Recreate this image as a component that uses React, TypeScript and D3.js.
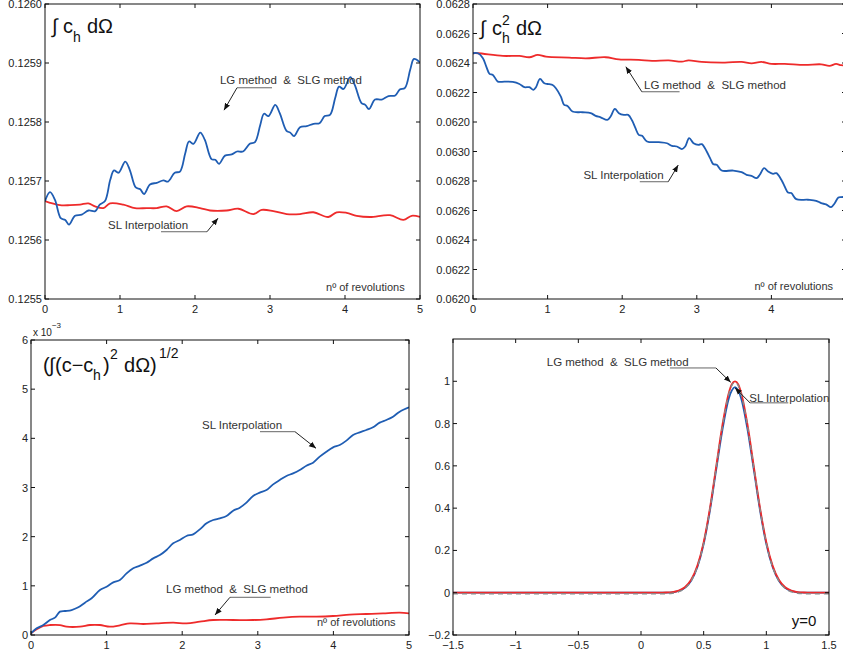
import React from "react";
import * as d3 from "d3";

type Pt = [number, number];

const FONT = "'Liberation Sans', Arial, Helvetica, sans-serif";
const BLUE = "#1f5db3";
const RED = "#ee2b2b";
const LG_TEXT = "LG method\u00a0 &\u00a0 SLG method";

// ---- axes ----
const revTicks = [0, 1, 2, 3, 4, 5];
const massTicks = [0.1255, 0.1256, 0.1257, 0.1258, 0.1259, 0.126];
const massLabels = ["0.1255", "0.1256", "0.1257", "0.1258", "0.1259", "0.1260"];
const energyTicks = [0.062, 0.0622, 0.0624, 0.0626, 0.0628, 0.063, 0.0632, 0.0634, 0.0636, 0.0638, 0.064];
const energyLabels = ["0.0620", "0.0622", "0.0624", "0.0626", "0.0628", "0.0630", "0.0620", "0.0622", "0.0624", "0.0626", "0.0628"];
const errTicks = [0, 0.001, 0.002, 0.003, 0.004, 0.005, 0.006];
const errLabels = ["0", "1", "2", "3", "4", "5", "6"];
const posTicks = [-1.5, -1, -0.5, 0, 0.5, 1, 1.5];
const posLabels = ["\u22121.5", "\u22121", "\u22120.5", "0", "0.5", "1", "1.5"];
const profTicks = [-0.2, 0, 0.2, 0.4, 0.6, 0.8, 1];
const profLabels = ["\u22120.2", "0", "0.2", "0.4", "0.6", "0.8", "1"];

// ---- integral of c_h (mass) ----
const massLG: Pt[] = [
  [0, 0.125666], [0.067, 0.125681], [0.133, 0.125668], [0.21, 0.125637], [0.27, 0.125634], [0.32, 0.125626],
  [0.4, 0.125641], [0.49, 0.125643], [0.58, 0.12565], [0.67, 0.125649], [0.73, 0.12566], [0.8, 0.125666],
  [0.87, 0.125702], [0.92, 0.125718], [0.98, 0.125714], [1.07, 0.125733], [1.13, 0.125719], [1.21, 0.125689],
  [1.27, 0.125686], [1.32, 0.125678], [1.4, 0.125694], [1.49, 0.125697], [1.58, 0.125701], [1.64, 0.125699],
  [1.73, 0.125714], [1.8, 0.125716], [1.87, 0.125747], [1.92, 0.125767], [1.98, 0.125763], [2.07, 0.125782],
  [2.13, 0.12577], [2.22, 0.125737], [2.27, 0.125736], [2.32, 0.125729], [2.4, 0.125743], [2.49, 0.125745],
  [2.56, 0.12575], [2.64, 0.12575], [2.73, 0.125763], [2.8, 0.125766], [2.87, 0.125795], [2.92, 0.125814],
  [2.98, 0.12581], [3.07, 0.125829], [3.13, 0.125815], [3.22, 0.125785], [3.27, 0.125782], [3.32, 0.125776],
  [3.4, 0.125791], [3.49, 0.125793], [3.58, 0.125797], [3.66, 0.125798], [3.73, 0.12581], [3.8, 0.125812],
  [3.87, 0.125841], [3.92, 0.12586], [3.98, 0.125856], [4.07, 0.125876], [4.13, 0.125863], [4.22, 0.125832],
  [4.27, 0.125829], [4.32, 0.125822], [4.4, 0.125838], [4.49, 0.125838], [4.58, 0.125844], [4.67, 0.125845],
  [4.73, 0.125855], [4.8, 0.125858], [4.87, 0.125889], [4.92, 0.125907], [5, 0.125901],
];
const massSL: Pt[] = [
  [0, 0.125666], [0.067, 0.125663], [0.2, 0.125659], [0.333, 0.125659], [0.467, 0.12566], [0.578, 0.125662],
  [0.667, 0.125657], [0.778, 0.125654], [0.867, 0.125662], [1.044, 0.12566], [1.2, 0.125654], [1.356, 0.125654],
  [1.489, 0.125654], [1.622, 0.125657], [1.756, 0.125649], [1.889, 0.125657], [2.067, 0.125654], [2.2, 0.12565],
  [2.422, 0.12565], [2.578, 0.125653], [2.778, 0.125644], [2.889, 0.125651], [3.044, 0.125649], [3.222, 0.125644],
  [3.4, 0.125644], [3.578, 0.125647], [3.778, 0.125639], [3.889, 0.125647], [4.022, 0.125646], [4.156, 0.125641],
  [4.333, 0.125639], [4.6, 0.125642], [4.778, 0.125634], [4.889, 0.125641], [5, 0.125639],
];

// ---- integral of c_h^2 ----
const energyLG: Pt[] = [
  [0, 0.063666], [0.067, 0.063666], [0.4, 0.063648], [0.622, 0.063648], [0.756, 0.063639], [0.867, 0.063655],
  [0.978, 0.063643], [1.289, 0.063637], [1.511, 0.063632], [1.778, 0.063639], [1.956, 0.063625], [2.222, 0.063621],
  [2.4, 0.063614], [2.622, 0.063618], [2.8, 0.063609], [2.889, 0.063618], [3.067, 0.063607], [3.378, 0.063603],
  [3.6, 0.063607], [3.733, 0.063598], [3.867, 0.063607], [4.0, 0.063594], [4.178, 0.063594], [4.444, 0.063587],
  [4.667, 0.063591], [4.778, 0.06358], [4.867, 0.063594], [4.933, 0.063585], [5, 0.063585],
];
const energySL: Pt[] = [
  [0, 0.063666], [0.067, 0.063666], [0.133, 0.063632], [0.178, 0.063576], [0.222, 0.063526], [0.267, 0.063519],
  [0.333, 0.063474], [0.422, 0.063474], [0.533, 0.063472], [0.622, 0.063458], [0.689, 0.063436], [0.756, 0.063436],
  [0.809, 0.063418], [0.844, 0.063436], [0.898, 0.063492], [0.956, 0.063463], [1.022, 0.063456], [1.067, 0.063451],
  [1.111, 0.063429], [1.178, 0.063372], [1.222, 0.063316], [1.267, 0.063309], [1.333, 0.063271], [1.467, 0.063266],
  [1.578, 0.06326], [1.644, 0.063242], [1.711, 0.063232], [1.8, 0.063214], [1.844, 0.063237], [1.902, 0.063289],
  [1.956, 0.06326], [2.022, 0.063248], [2.08, 0.063248], [2.133, 0.06321], [2.178, 0.063158], [2.222, 0.063113],
  [2.267, 0.063106], [2.333, 0.063068], [2.489, 0.063063], [2.6, 0.063056], [2.667, 0.063038], [2.733, 0.063034],
  [2.8, 0.063016], [2.844, 0.063034], [2.898, 0.06309], [2.956, 0.063056], [3.022, 0.063045], [3.067, 0.06305],
  [3.133, 0.063], [3.178, 0.062955], [3.222, 0.062914], [3.267, 0.06291], [3.333, 0.062871], [3.489, 0.062871],
  [3.6, 0.06286], [3.667, 0.062842], [3.733, 0.062835], [3.8, 0.062819], [3.844, 0.062842], [3.902, 0.062887],
  [3.956, 0.062865], [4.022, 0.062849], [4.067, 0.062853], [4.133, 0.062808], [4.178, 0.062763], [4.222, 0.062722],
  [4.267, 0.062718], [4.333, 0.062677], [4.489, 0.062673], [4.6, 0.062666], [4.667, 0.06265], [4.733, 0.062641],
  [4.8, 0.062623], [4.844, 0.062646], [4.898, 0.062688], [4.933, 0.062691], [5, 0.062691],
];

// ---- L2 error ----
const errSL: Pt[] = [
  [0, 0.000034], [0.075, 0.000136], [0.163, 0.000203], [0.25, 0.000305], [0.317, 0.000353], [0.383, 0.000475],
  [0.449, 0.000488], [0.537, 0.000508], [0.626, 0.000563], [0.714, 0.000658], [0.802, 0.000746], [0.912, 0.000915],
  [1.0, 0.000983], [1.088, 0.001071], [1.176, 0.001119], [1.264, 0.001254], [1.352, 0.001356], [1.441, 0.00141],
  [1.529, 0.001471], [1.617, 0.001559], [1.705, 0.001627], [1.793, 0.001729], [1.881, 0.001864], [1.969, 0.001932],
  [2.057, 0.002014], [2.145, 0.002047], [2.233, 0.002149], [2.322, 0.002271], [2.41, 0.002339], [2.498, 0.002373],
  [2.586, 0.00242], [2.674, 0.002529], [2.762, 0.00259], [2.85, 0.002692], [2.938, 0.002827], [3.026, 0.002895],
  [3.115, 0.002949], [3.203, 0.003064], [3.291, 0.003153], [3.379, 0.003234], [3.467, 0.003288], [3.555, 0.003356],
  [3.643, 0.003444], [3.731, 0.003505], [3.819, 0.003627], [3.907, 0.003729], [3.996, 0.003817], [4.084, 0.003864],
  [4.172, 0.003953], [4.26, 0.004068], [4.348, 0.004122], [4.436, 0.004169], [4.524, 0.004224], [4.612, 0.004319],
  [4.7, 0.004373], [4.789, 0.004441], [4.877, 0.004542], [5, 0.004631],
];
const errLG: Pt[] = [
  [0, 0.000034], [0.075, 0.000115], [0.163, 0.000183], [0.25, 0.000203], [0.383, 0.000203], [0.471, 0.000169],
  [0.648, 0.000169], [0.78, 0.000203], [0.912, 0.000203], [1.044, 0.000169], [1.176, 0.000197], [1.308, 0.000237],
  [1.485, 0.000224], [1.661, 0.000237], [1.881, 0.000251], [2.057, 0.000237], [2.233, 0.000271], [2.41, 0.000305],
  [2.674, 0.000305], [2.938, 0.000305], [3.115, 0.000319], [3.335, 0.000353], [3.555, 0.000373], [3.775, 0.000373],
  [3.996, 0.000386], [4.216, 0.000414], [4.436, 0.000427], [4.656, 0.000441], [4.877, 0.000454], [5, 0.000441],
];

// ---- profile along y=0 ----
const profLG: Pt[] = [
  [-1.5, 0], [0.15, 0], [0.2, 0.001], [0.25, 0.003], [0.3, 0.01], [0.35, 0.026], [0.4, 0.061], [0.45, 0.128],
  [0.5, 0.239], [0.55, 0.4], [0.6, 0.598], [0.65, 0.795], [0.7, 0.944], [0.725, 0.986], [0.75, 1.0], [0.775, 0.986],
  [0.8, 0.944], [0.85, 0.795], [0.9, 0.598], [0.95, 0.4], [1.0, 0.239], [1.05, 0.128], [1.1, 0.061], [1.15, 0.026],
  [1.2, 0.01], [1.25, 0.003], [1.3, 0.001], [1.35, 0], [1.5, 0],
];
const profSL: Pt[] = [
  [-1.5, 0], [0.2, 0], [0.25, 0.002], [0.3, 0.008], [0.35, 0.023], [0.4, 0.057], [0.45, 0.122], [0.5, 0.23],
  [0.55, 0.388], [0.6, 0.582], [0.65, 0.772], [0.7, 0.918], [0.725, 0.957], [0.75, 0.972], [0.775, 0.957],
  [0.8, 0.918], [0.85, 0.772], [0.9, 0.582], [0.95, 0.388], [1.0, 0.23], [1.05, 0.122], [1.1, 0.057],
  [1.15, 0.023], [1.2, 0.008], [1.25, 0.002], [1.3, 0], [1.5, 0],
];
const profExact: Pt[] = profLG;

type Scale = d3.ScaleLinear<number, number>;

const Panel = ({ id, xs, ys, xTicks, xLabels, yTicks, yLabels, children }: {
  id: string; xs: Scale; ys: Scale; xTicks: number[]; xLabels: string[];
  yTicks: number[]; yLabels: string[]; children?: React.ReactNode;
}) => {
  const [x0, x1] = xs.range();
  const [y0, y1] = ys.range();
  const tl = 4;
  return (
    <g>
      <defs>
        <clipPath id={id}>
          <rect x={x0} y={y1} width={x1 - x0} height={y0 - y1} />
        </clipPath>
      </defs>
      <g clipPath={`url(#${id})`}>{children}</g>
      <g stroke="#111" strokeWidth={1}>
        {xTicks.map((t, i) => (
          <g key={"x" + i}>
            <line x1={xs(t)} x2={xs(t)} y1={y0} y2={y0 - tl} />
            <line x1={xs(t)} x2={xs(t)} y1={y1} y2={y1 + tl} />
          </g>
        ))}
        {yTicks.map((t, i) => (
          <g key={"y" + i}>
            <line x1={x0} x2={x0 + tl} y1={ys(t)} y2={ys(t)} />
            <line x1={x1} x2={x1 - tl} y1={ys(t)} y2={ys(t)} />
          </g>
        ))}
        <rect x={x0} y={y1} width={x1 - x0} height={y0 - y1} fill="none" />
      </g>
      <g fontFamily={FONT} fontSize={11} fill="#222">
        {xTicks.map((t, i) => (
          <text key={"xl" + i} x={xs(t)} y={y0 + 14} textAnchor="middle">{xLabels[i]}</text>
        ))}
        {yTicks.map((t, i) => (
          <text key={"yl" + i} x={x0 - 3} y={ys(t) + 4} textAnchor="end">{yLabels[i]}</text>
        ))}
      </g>
    </g>
  );
};

const Note = ({ xs, ys, text, at, path }: { xs: Scale; ys: Scale; text: string; at: Pt; path: Pt[] }) => {
  const p = path.map((d) => [xs(d[0]), ys(d[1])]);
  return (
    <g>
      <text x={xs(at[0])} y={ys(at[1])} fontFamily={FONT} fontSize={11.5} fill="#333">{text}</text>
      <line x1={p[0][0]} y1={p[0][1]} x2={p[1][0]} y2={p[1][1]} stroke="#666" strokeWidth={1} />
      <line x1={p[1][0]} y1={p[1][1]} x2={p[2][0]} y2={p[2][1]} stroke="#222" strokeWidth={1} markerEnd="url(#arrow)" />
    </g>
  );
};

const App = () => {
  const width = 843;
  const height = 658;

  const xTL = d3.scaleLinear().domain([0, 5]).range([45, 420]);
  const yTL = d3.scaleLinear().domain([0.1255, 0.126]).range([299, 4]);
  const xTR = d3.scaleLinear().domain([0, 5]).range([473, 846]);
  const yTR = d3.scaleLinear().domain([0.062, 0.064]).range([299, 4]);
  const xBL = d3.scaleLinear().domain([0, 5]).range([31, 409]);
  const yBL = d3.scaleLinear().domain([0, 0.006]).range([635, 340]);
  const xBR = d3.scaleLinear().domain([-1.5, 1.5]).range([453, 829]);
  const yBR = d3.scaleLinear().domain([-0.2, 1.2]).range([635, 339]);

  const mk = (xs: Scale, ys: Scale) =>
    d3.line<Pt>().x((d) => xs(d[0])).y((d) => ys(d[1])).curve(d3.curveCatmullRom.alpha(0.5));
  const lTL = mk(xTL, yTL);
  const lTR = mk(xTR, yTR);
  const lBL = mk(xBL, yBL);
  const lBR = d3.line<Pt>().x((d) => xBR(d[0])).y((d) => yBR(d[1])).curve(d3.curveMonotoneX);

  const sw = 1.8;

  return (
    <svg width={width} height={height} style={{ position: "absolute", left: 0, top: 0, background: "#fff" }}>
      <defs>
        <marker id="arrow" viewBox="0 0 10 10" refX={10} refY={5} markerWidth={7} markerHeight={7}
          markerUnits="userSpaceOnUse" orient="auto">
          <path d="M0,1 L10,5 L0,9 z" fill="#111" />
        </marker>
      </defs>
      <rect width={width} height={height} fill="#fff" />

      {/* top left */}
      <Panel id="cTL" xs={xTL} ys={yTL} xTicks={revTicks} xLabels={revTicks.map(String)} yTicks={massTicks} yLabels={massLabels}>
        <path d={lTL(massSL) || ""} fill="none" stroke={RED} strokeWidth={sw} />
        <path d={lTL(massLG) || ""} fill="none" stroke={BLUE} strokeWidth={sw} />
      </Panel>
      <text x={xTL(0.093)} y={yTL(0.125951)} fontFamily={FONT} fontSize={20} fill="#111">
        <tspan>∫</tspan>
        <tspan x={xTL(0.093) + 11}>c</tspan>
        <tspan x={xTL(0.093) + 21} dy={9} fontSize={14}>h</tspan>
        <tspan x={xTL(0.093) + 35} dy={-9}>dΩ</tspan>
      </text>
      <Note xs={xTL} ys={yTL} text={LG_TEXT} at={[2.333, 0.125864]}
        path={[[3.027, 0.125858], [2.56, 0.125858], [2.387, 0.12582]]} />
      <Note xs={xTL} ys={yTL} text="SL Interpolation" at={[0.84, 0.125619]}
        path={[[1.547, 0.125614], [2.16, 0.125614], [2.307, 0.125637]]} />
      <text x={xTL(3.747)} y={yTL(0.125514)} fontFamily={FONT} fontSize={11} fill="#333">nº of revolutions</text>

      {/* top right */}
      <Panel id="cTR" xs={xTR} ys={yTR} xTicks={revTicks} xLabels={revTicks.map(String)} yTicks={energyTicks} yLabels={energyLabels}>
        <path d={lTR(energyLG) || ""} fill="none" stroke={RED} strokeWidth={sw} />
        <path d={lTR(energySL) || ""} fill="none" stroke={BLUE} strokeWidth={sw} />
      </Panel>
      <text x={xTR(0.093)} y={yTR(0.06379)} fontFamily={FONT} fontSize={20} fill="#111">
        <tspan>∫</tspan>
        <tspan x={xTR(0.093) + 12}>c</tspan>
        <tspan x={xTR(0.093) + 22} dy={-10} fontSize={14}>2</tspan>
        <tspan x={xTR(0.093) + 22} dy={18} fontSize={14}>h</tspan>
        <tspan x={xTR(0.093) + 36} dy={-8}>dΩ</tspan>
      </text>
      <Note xs={xTR} ys={yTR} text={LG_TEXT} at={[2.293, 0.063424]}
        path={[[2.769, 0.063405], [2.263, 0.063405], [2.049, 0.063575]]} />
      <Note xs={xTR} ys={yTR} text="SL Interpolation" at={[1.48, 0.062814]}
        path={[[2.236, 0.062795], [2.617, 0.062795], [2.751, 0.062908]]} />
      <text x={xTR(3.773)} y={yTR(0.062061)} fontFamily={FONT} fontSize={11} fill="#333">nº of revolutions</text>

      {/* bottom left */}
      <Panel id="cBL" xs={xBL} ys={yBL} xTicks={revTicks} xLabels={revTicks.map(String)} yTicks={errTicks} yLabels={errLabels}>
        <path d={lBL(errLG) || ""} fill="none" stroke={RED} strokeWidth={sw} />
        <path d={lBL(errSL) || ""} fill="none" stroke={BLUE} strokeWidth={sw} />
      </Panel>
      <text x={xBL(0) + 2} y={yBL(0.006) - 4} fontFamily={FONT} fontSize={10} fill="#222">
        <tspan>x 10</tspan>
        <tspan dy={-8} fontSize={8}>−3</tspan>
      </text>
      <text x={xBL(0.159)} y={yBL(0.00535)} fontFamily={FONT} fontSize={20} fill="#111">
        <tspan>(</tspan>
        <tspan x={xBL(0.159) + 6}>∫</tspan>
        <tspan x={xBL(0.159) + 12}>(c−c</tspan>
        <tspan x={xBL(0.159) + 50} dy={8} fontSize={14}>h</tspan>
        <tspan x={xBL(0.159) + 60} dy={-8}>)</tspan>
        <tspan x={xBL(0.159) + 67} dy={-13} fontSize={14}>2</tspan>
        <tspan x={xBL(0.159) + 81} dy={13}>dΩ)</tspan>
        <tspan x={xBL(0.159) + 116} dy={-14} fontSize={14}>1/2</tspan>
      </text>
      <Note xs={xBL} ys={yBL} text="SL Interpolation" at={[2.262, 0.00419]}
        path={[[3.029, 0.004135], [3.492, 0.004135], [3.77, 0.003797]]} />
      <Note xs={xBL} ys={yBL} text={LG_TEXT} at={[1.786, 0.000854]}
        path={[[3.171, 0.000767], [2.632, 0.000767], [2.434, 0.000407]]} />
      <text x={xBL(3.783)} y={yBL(0.000183)} fontFamily={FONT} fontSize={11} fill="#333">nº of revolutions</text>

      {/* bottom right */}
      <Panel id="cBR" xs={xBR} ys={yBR} xTicks={posTicks} xLabels={posLabels} yTicks={profTicks} yLabels={profLabels}>
        <path d={lBR(profSL) || ""} fill="none" stroke={BLUE} strokeWidth={sw} />
        <path d={lBR(profLG) || ""} fill="none" stroke={RED} strokeWidth={sw} />
        <path d={lBR(profExact) || ""} fill="none" stroke="#8a8a8a" strokeWidth={1.4}
          strokeDasharray="5,4" transform="translate(0,1.2)" />
      </Panel>
      <Note xs={xBR} ys={yBR} text={LG_TEXT} at={[-0.752, 1.074]}
        path={[[0.231, 1.063], [0.598, 1.063], [0.716, 0.995]]} />
      <Note xs={xBR} ys={yBR} text="SL Interpolation" at={[0.864, 0.904]}
        path={[[1.175, 0.898], [0.87, 0.898], [0.75, 0.969]]} />
      <text x={xBR(1.202)} y={yBR(-0.159)} fontFamily={FONT} fontSize={15} fill="#111">y=0</text>
    </svg>
  );
};

export default App;
